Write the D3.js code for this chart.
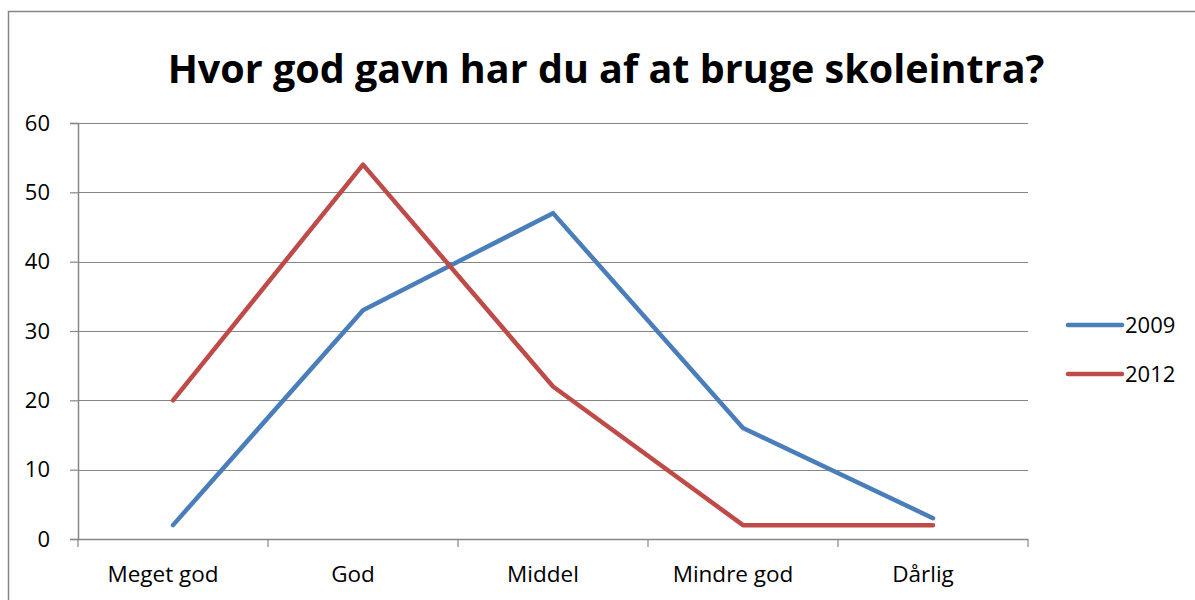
<!DOCTYPE html>
<html>
<head>
<meta charset="utf-8">
<script src="https://cdn.jsdelivr.net/npm/d3@7"></script>
<style>
  body { margin: 0; background: #fff; }
  svg { font-family: "Open Sans", "Noto Sans", sans-serif; }
</style>
</head>
<body>
<div id="chart"></div>
<script>
const categories = ["Meget god", "God", "Middel", "Mindre god", "Dårlig"];
const seriesNames = ["2009", "2012"];
const values2009 = [2, 33, 47, 16, 3];
const values2012 = [20, 54, 22, 2, 2];
const yTicks = [0, 10, 20, 30, 40, 50, 60];
const colors = ["#4a7ebb", "#be4b48"];

const series = [
    { name: seriesNames[0], values: values2009, color: colors[0] },
    { name: seriesNames[1], values: values2012, color: colors[1] }
];

const W = 1195, H = 600;
const margin = { top: 123, left: 78, right: 167, bottom: 61 };
const width = W - margin.left - margin.right;
const height = H - margin.top - margin.bottom;

const svg = d3.select("#chart").append("svg")
    .attr("width", W)
    .attr("height", H);

// chart outer border
svg.append("rect")
    .attr("x", 8.5).attr("y", 11.5)
    .attr("width", W + 20).attr("height", H + 20)
    .attr("fill", "none")
    .attr("stroke", "#868686")
    .attr("stroke-width", 1.5);

svg.append("text")
    .attr("x", 606)
    .attr("y", 83)
    .attr("text-anchor", "middle")
    .style("font-size", "39.5px")
    .style("font-weight", "bold")
    .text("Hvor god gavn har du af at bruge skoleintra?");

const g = svg.append("g")
    .attr("transform", `translate(${margin.left},${margin.top})`);

const x = d3.scaleBand()
    .domain(categories)
    .range([0, width]);

const y = d3.scaleLinear()
    .domain([0, 60])
    .range([height, 0]);

// gridlines
g.append("g")
    .selectAll("line")
    .data(yTicks.filter(d => d > 0))
    .enter().append("line")
    .attr("x1", 0).attr("x2", width)
    .attr("y1", d => Math.round(y(d)) + 0.5)
    .attr("y2", d => Math.round(y(d)) + 0.5)
    .attr("stroke", "#868686")
    .attr("stroke-width", 1.2);

// y axis
const yAxis = g.append("g")
    .call(d3.axisLeft(y).tickValues(yTicks).tickSize(8).tickPadding(20));
yAxis.select(".domain").attr("stroke", "#868686").attr("stroke-width", 1.5);
yAxis.selectAll(".tick line").attr("stroke", "#868686").attr("stroke-width", 1.2);
yAxis.selectAll("text").style("font-size", "22px").attr("fill", "#000")
    .attr("font-family", "Open Sans, sans-serif");

// x axis, ticks between categories
const xAxis = g.append("g")
    .attr("transform", `translate(0,${height})`);
xAxis.append("line")
    .attr("x1", 0).attr("x2", width)
    .attr("y1", 0.5).attr("y2", 0.5)
    .attr("stroke", "#868686").attr("stroke-width", 1.5);
xAxis.selectAll(".xt")
    .data(categories.concat([null]))
    .enter().append("line")
    .attr("class", "xt")
    .attr("x1", (d, i) => i * x.step())
    .attr("x2", (d, i) => i * x.step())
    .attr("y1", 0).attr("y2", 8)
    .attr("stroke", "#868686").attr("stroke-width", 1.2);
xAxis.selectAll(".xl")
    .data(categories)
    .enter().append("text")
    .attr("class", "xl")
    .attr("x", d => x(d) + x.bandwidth() / 2 - 10)
    .attr("y", 43)
    .attr("text-anchor", "middle")
    .style("font-size", "22.5px")
    .text(d => d);

const line = d3.line()
    .x((d, i) => x(categories[i]) + x.bandwidth() / 2)
    .y(d => y(d));

g.selectAll(".series")
    .data(series)
    .enter().append("path")
    .attr("class", "series")
    .attr("d", d => line(d.values))
    .attr("fill", "none")
    .attr("stroke", d => d.color)
    .attr("stroke-width", 4.5)
    .attr("stroke-linecap", "round")
    .attr("stroke-linejoin", "round");

// legend
const legend = svg.append("g")
    .selectAll("g")
    .data(series)
    .enter().append("g")
    .attr("transform", (d, i) => `translate(1068,${325 + i * 49})`);
legend.append("line")
    .attr("x1", 0).attr("x2", 54)
    .attr("stroke", d => d.color)
    .attr("stroke-width", 4.5)
    .attr("stroke-linecap", "round");
legend.append("text")
    .attr("x", 57)
    .attr("dy", "0.36em")
    .style("font-size", "22px")
    .text(d => d.name);
</script>
</body>
</html>
